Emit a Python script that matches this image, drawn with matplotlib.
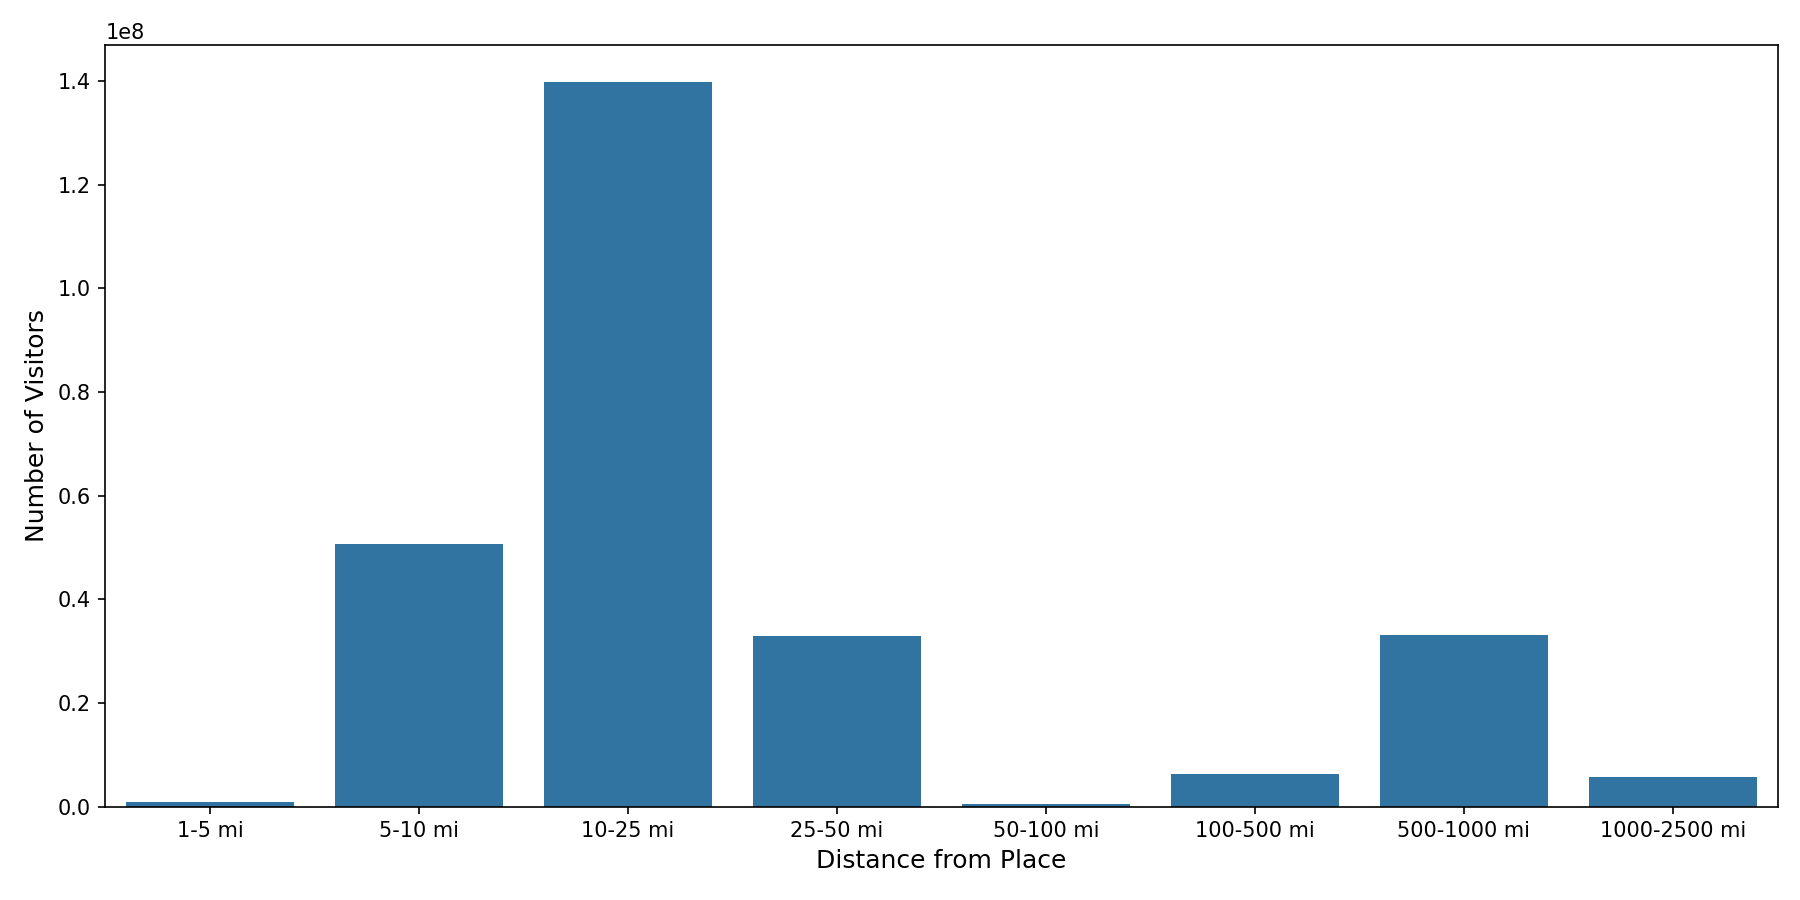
import matplotlib
matplotlib.use("Agg")
import matplotlib.pyplot as plt
import seaborn as sns

distances = ["1-5 mi", "5-10 mi", "10-25 mi", "25-50 mi", "50-100 mi",
             "100-500 mi", "500-1000 mi", "1000-2500 mi"]
visitors = [0.87e6, 50.6e6, 139.9e6, 33.0e6, 0.55e6, 6.3e6, 33.2e6, 5.7e6]

fig, ax = plt.subplots(figsize=(12, 6))
sns.barplot(x=distances, y=visitors, ax=ax)
ax.set_xlabel("Distance from Place", fontsize=12)
ax.set_ylabel("Number of Visitors", fontsize=12)
fig.tight_layout()
fig.savefig("out.png", dpi=150)
